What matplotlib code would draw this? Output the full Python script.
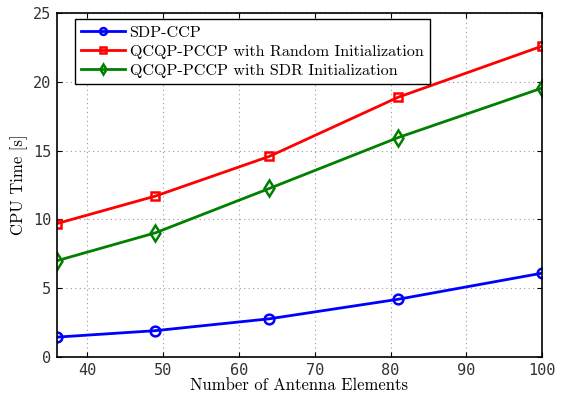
import numpy as np
import matplotlib
matplotlib.use('Agg')
import matplotlib.pyplot as plt

# data
antennas = [36, 49, 64, 81, 100]
sdp_ccp = [1.45, 1.92, 2.78, 4.2, 6.1]
qcqp_random = [9.7, 11.7, 14.58, 18.88, 22.6]
qcqp_sdr = [7.0, 9.03, 12.25, 15.95, 19.55]

serif = {'family': 'cmr10', 'size': 12}

fig = plt.figure(figsize=(5.63, 3.95), dpi=100)
ax = fig.add_axes([0.101, 0.096, 0.862, 0.871])

ax.plot(antennas, sdp_ccp, 'b-o', lw=2, ms=7, mfc='none', mew=1.8, label='SDP-CCP')
ax.plot(antennas, qcqp_random, 'r-s', lw=2, ms=6, mfc='none', mew=1.8,
        label='QCQP-PCCP with Random Initialization')
ax.plot(antennas, qcqp_sdr, '-d', color='#008000', lw=2, ms=8, mfc='none', mew=1.8,
        label='QCQP-PCCP with SDR Initialization')

ax.set_xlim(36, 100)
ax.set_ylim(0, 25)
ax.set_xticks([40, 50, 60, 70, 80, 90, 100])
ax.set_yticks([0, 5, 10, 15, 20, 25])
ax.grid(True, color='#999999', lw=0.8, dashes=(1, 3))
ax.tick_params(direction='in', top=True, right=True, labelsize=11, pad=4)
for lab in ax.get_xticklabels() + ax.get_yticklabels():
    lab.set_family('DejaVu Sans Mono')
    lab.set_color('#333333')
for s in ax.spines.values():
    s.set_linewidth(1.2)

ax.set_xlabel('Number of Antenna Elements', fontdict=serif, labelpad=0)
ax.set_ylabel('CPU Time [s]', fontdict=serif, labelpad=4)

leg = ax.legend(loc='upper left', prop={'family': 'cmr10', 'size': 11.6},
                fancybox=False, edgecolor='black', framealpha=1,
                handlelength=2.7, borderpad=0.4, labelspacing=0.3,
                handletextpad=0.3, markerscale=0.7, borderaxespad=0,
                bbox_to_anchor=(0.037, 0.983))
leg.get_frame().set_linewidth(1.0)

fig.savefig('out.png', dpi=100)
